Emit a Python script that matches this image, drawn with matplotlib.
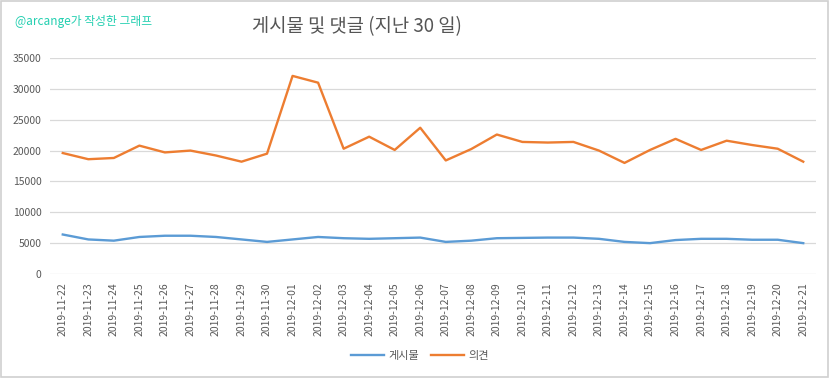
import matplotlib
matplotlib.use("Agg")
import matplotlib.pyplot as plt
from matplotlib.patches import Rectangle

plt.rcParams['font.family'] = ['Noto Sans CJK KR', 'DejaVu Sans']

dates = ['2019-11-22', '2019-11-23', '2019-11-24', '2019-11-25', '2019-11-26',
         '2019-11-27', '2019-11-28', '2019-11-29', '2019-11-30', '2019-12-01',
         '2019-12-02', '2019-12-03', '2019-12-04', '2019-12-05', '2019-12-06',
         '2019-12-07', '2019-12-08', '2019-12-09', '2019-12-10', '2019-12-11',
         '2019-12-12', '2019-12-13', '2019-12-14', '2019-12-15', '2019-12-16',
         '2019-12-17', '2019-12-18', '2019-12-19', '2019-12-20', '2019-12-21']

# 게시물 (posts)
posts = [6400, 5600, 5400, 6000, 6200, 6200, 6000, 5600, 5200, 5600,
         6000, 5800, 5700, 5800, 5900, 5200, 5400, 5800, 5850, 5900,
         5900, 5700, 5200, 5000, 5500, 5700, 5700, 5550, 5550, 5000]

# 의견 (comments)
comments = [19600, 18600, 18800, 20800, 19700, 20000, 19200, 18200, 19500, 32100,
            31000, 20300, 22250, 20100, 23700, 18400, 20250, 22600, 21400, 21300,
            21400, 20000, 18000, 20100, 21900, 20100, 21600, 20900, 20300, 18200]

yticks = [0, 5000, 10000, 15000, 20000, 25000, 30000, 35000]

fig = plt.figure(figsize=(8.32, 3.78), dpi=100)
ax = fig.add_axes([50 / 832, 1 - 274 / 378, 766 / 832, 216 / 378])

x = range(len(dates))
ax.plot(x, posts, color='#5B9BD5', lw=1.7, label='게시물', solid_joinstyle='round')
ax.plot(x, comments, color='#ED7D31', lw=1.7, label='의견', solid_joinstyle='round')

ax.set_xlim(-0.5, len(dates) - 0.5)
ax.set_ylim(0, 35000)
ax.set_yticks(yticks)
ax.set_yticklabels([str(v) for v in yticks], fontsize=7.5, color='#595959')
ax.set_xticks(list(x))
ax.set_xticklabels(dates, rotation=90, fontsize=7.5, color='#595959')
ax.tick_params(axis='both', length=0, pad=6)
ax.grid(axis='y', color='#d9d9d9', lw=0.9)
ax.set_axisbelow(True)
for s in ax.spines.values():
    s.set_visible(False)

fig.text(357 / 832, 1 - 27 / 378, '게시물 및 댓글 (지난 30 일)', ha='center', va='center',
         fontsize=13.5, color='#555555')
fig.text(15 / 832, 1 - 22 / 378, '@arcange가 작성한 그래프', ha='left', va='center',
         fontsize=8.5, color='#22CFB0')

fig.legend(loc='center', bbox_to_anchor=(420 / 832, 1 - 356 / 378), ncol=2, frameon=False,
           fontsize=8, handlelength=3, columnspacing=1.0, handletextpad=0.4,
           labelcolor='#595959')

fig.patches.append(Rectangle((0.001, 0.002), 0.994, 0.995, transform=fig.transFigure,
                             fill=False, edgecolor='#d0d0d0', lw=1.2))

fig.savefig('out.png', dpi=100)
